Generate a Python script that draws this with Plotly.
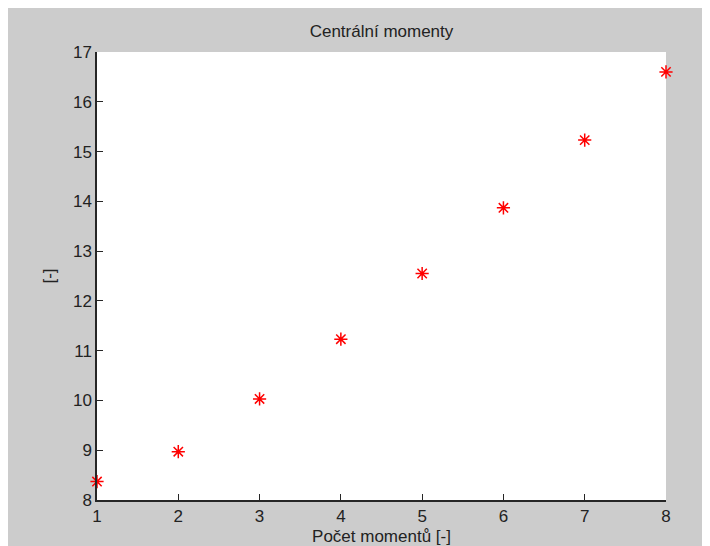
import plotly.graph_objects as go

pocet = [1, 2, 3, 4, 5, 6, 7, 8]
momenty = [8.37, 8.97, 10.03, 11.23, 12.55, 13.87, 15.23, 16.60]
x_ticks = [1, 2, 3, 4, 5, 6, 7, 8]
y_ticks = [8, 9, 10, 11, 12, 13, 14, 15, 16, 17]

W, H = 702, 538
L, R, T, B = 89, 44, 44, 46

fig = go.Figure()
fig.add_trace(go.Scatter(
    x=pocet, y=momenty, mode="markers",
    marker=dict(symbol="asterisk-open", size=11, color="red",
                line=dict(color="red", width=1.5)),
    cliponaxis=False, showlegend=False,
))

font = "Liberation Sans, Arial, sans-serif"
pw = W - L - R
fig.update_layout(
    width=W, height=H,
    margin=dict(l=L, r=R, t=T, b=B, pad=0),
    paper_bgcolor="#cccccc",
    plot_bgcolor="white",
    font=dict(family=font, size=17, color="#222222"),
    title=dict(text="Centrální momenty", x=(L + pw / 2) / W, xanchor="center",
               y=1 - 23 / H, yanchor="middle",
               font=dict(size=17, family=font, color="#222222")),
    xaxis=dict(range=[1, 8], tickvals=x_ticks, showgrid=False, zeroline=False,
               showline=True, linecolor="#262626", linewidth=1.5,
               ticks="inside", ticklen=6, tickcolor="#262626", tickwidth=1,
               mirror=False, automargin=False,
               title=dict(text="Počet momentů [-]", standoff=5,
                          font=dict(size=17, family=font))),
    yaxis=dict(range=[8, 17], tickvals=y_ticks, showgrid=False, zeroline=False,
               showline=True, linecolor="#262626", linewidth=1.5,
               ticks="inside", ticklen=6, tickcolor="#262626", tickwidth=1,
               mirror=False, automargin=False,
               title=dict(text="[-]", standoff=13,
                          font=dict(size=17, family=font))),
)

fig.write_html("out.html")
